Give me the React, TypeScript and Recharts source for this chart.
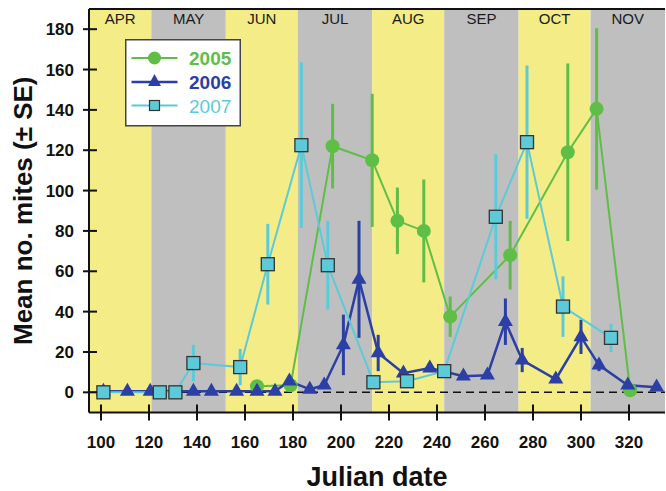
import React from 'react';
import {
  ComposedChart,
  Line,
  XAxis,
  YAxis,
  ReferenceArea,
  ReferenceLine,
  ErrorBar,
  Legend,
  Label,
} from 'recharts';

// ---------- data ----------
const monthNames = ['APR', 'MAY', 'JUN', 'JUL', 'AUG', 'SEP', 'OCT', 'NOV'];
const monthStarts = [95, 121, 152, 182, 213, 243, 274, 304];
const monthEnds = [121, 152, 182, 213, 243, 274, 304, 335];

const xTicks = [100, 120, 140, 160, 180, 200, 220, 240, 260, 280, 300, 320];
const yTicks = [0, 20, 40, 60, 80, 100, 120, 140, 160, 180];

const days2005 = [165, 179, 196.5, 213, 223.5, 234.5, 245.5, 270.5, 294.5, 306.5, 320.5];
const mean2005 = [3, 3.5, 122, 115, 85, 80, 37.5, 68, 119, 140.5, 1];
const se2005 = [0, 0, 21, 33, 16.5, 25.5, 10, 17, 44, 40, 0];

const days2006 = [101, 111, 120.5, 138.5, 146, 156.5, 165, 172.5, 178.5, 187, 193, 201, 207.5, 215.5, 226, 237, 251, 261, 268.5, 275.5, 289.5, 300, 307.5, 319.5, 331.5];
const mean2006 = [0.5, 0.5, 0.5, 0.5, 0.5, 0.5, 0.5, 0.5, 5.5, 1.5, 3.5, 23.5, 56, 19.5, 9.5, 12, 8, 8.5, 35, 16, 6.5, 27.5, 13.5, 3.5, 2.5];
const se2006 = [0, 0, 0, 0, 0, 0, 0, 0, 0, 0, 0, 15, 29, 9, 0, 0, 0, 0, 11.5, 6, 0, 8.5, 3, 0, 0];

const days2007 = [101, 124.5, 131, 138.5, 158, 169.5, 183.5, 194.5, 213.5, 227.5, 243, 264.5, 277.5, 292.5, 312.5];
const mean2007 = [0, 0, 0, 14.5, 12.5, 63.5, 122.5, 63, 5, 5.5, 10.5, 87, 124, 42.5, 27];
const se2007 = [0, 0, 0, 9, 9, 20, 41, 22, 0, 0, 0, 31, 38, 15, 7];

const build = (d: number[], m: number[], s: number[]) =>
  d.map((day, i) => ({ day, mean: m[i], se: s[i] }));

const data2005 = build(days2005, mean2005, se2005);
const data2006 = build(days2006, mean2006, se2006);
const data2007 = build(days2007, mean2007, se2007);

// ---------- style ----------
const FONT = '"Liberation Sans", Arial, Helvetica, sans-serif';
const GREEN = '#5FBE46';
const BLUE = '#2B3FA5';
const CYAN = '#5CCAD9';
const YELLOW = '#F3EC87';
const GRAY = '#BFBFBF';
const INK = '#111111';

const circleDot = (props: any) => {
  const { cx, cy, index } = props;
  if (cx == null || cy == null) return <g key={`c${index}`} />;
  return <circle key={`c${index}`} cx={cx} cy={cy} r={7} fill={GREEN} />;
};

const triangleDot = (props: any) => {
  const { cx, cy, index } = props;
  if (cx == null || cy == null) return <g key={`t${index}`} />;
  const w = 15;
  const h = 13;
  return (
    <path
      key={`t${index}`}
      d={`M${cx},${cy - (h * 2) / 3} L${cx + w / 2},${cy + h / 3} L${cx - w / 2},${cy + h / 3} Z`}
      fill={BLUE}
    />
  );
};

const squareDot = (props: any) => {
  const { cx, cy, index } = props;
  if (cx == null || cy == null) return <g key={`s${index}`} />;
  const s = 13;
  return (
    <rect
      key={`s${index}`}
      x={cx - s / 2}
      y={cy - s / 2}
      width={s}
      height={s}
      fill={CYAN}
      stroke="#333"
      strokeWidth={1.3}
    />
  );
};

const XTick = (props: any) => {
  const { x, y, payload } = props;
  return (
    <g>
      <line x1={x} x2={x} y1={y - 8} y2={y + 8} stroke={INK} strokeWidth={2} />
      <text
        x={x}
        y={y + 35.5}
        textAnchor="middle"
        fontFamily={FONT}
        fontWeight="bold"
        fontSize={17}
        fill={INK}
      >
        {payload.value}
      </text>
    </g>
  );
};

const YTick = (props: any) => {
  const { x, y, payload } = props;
  return (
    <g>
      <line x1={x - 6} x2={x + 8} y1={y} y2={y} stroke={INK} strokeWidth={2} />
      <text
        x={x - 15}
        y={y + 6}
        textAnchor="end"
        fontFamily={FONT}
        fontWeight="bold"
        fontSize={17}
        fill={INK}
      >
        {payload.value}
      </text>
    </g>
  );
};

const XLabel = (props: any) => {
  const vb = props.viewBox || { x: 89, y: 412.5, width: 576, height: 78.5 };
  return (
    <text
      x={vb.x + vb.width / 2}
      y={vb.y + 73.5}
      textAnchor="middle"
      fontFamily={FONT}
      fontWeight="bold"
      fontSize={27}
      fill={INK}
    >
      Julian date
    </text>
  );
};

const YLabel = (props: any) => {
  const vb = props.viewBox || { x: 0, y: 9, width: 89, height: 403.5 };
  const cx = vb.x + 32;
  const cy = vb.y + vb.height / 2;
  return (
    <text
      x={cx}
      y={cy}
      transform={`rotate(-90, ${cx}, ${cy})`}
      textAnchor="middle"
      fontFamily={FONT}
      fontWeight="bold"
      fontSize={26}
      fill={INK}
    >
      Mean no. mites (± SE)
    </text>
  );
};

const legendItems = [
  { name: '2005', color: GREEN, weight: 'bold', marker: 'circle' },
  { name: '2006', color: BLUE, weight: 'bold', marker: 'triangle' },
  { name: '2007', color: CYAN, weight: 'normal', marker: 'square' },
];

const LegendBox = () => {
  const rows = [19, 43, 66.5];
  return (
    <svg width={116} height={88} style={{ display: 'block' }}>
      <rect x={0.75} y={0.75} width={114.5} height={86} fill="#ffffff" stroke="#444" strokeWidth={1.5} />
      {legendItems.map((it, i) => {
        const y = rows[i];
        const mx = 29.5;
        let marker: React.ReactNode = null;
        if (it.marker === 'circle') marker = <circle cx={mx} cy={y} r={6.5} fill={it.color} />;
        if (it.marker === 'triangle')
          marker = (
            <path
              d={`M${mx},${y - 8} L${mx + 6.5},${y + 4} L${mx - 6.5},${y + 4} Z`}
              fill={it.color}
            />
          );
        if (it.marker === 'square')
          marker = (
            <rect x={mx - 5} y={y - 5} width={10} height={10} fill={it.color} stroke="#333" strokeWidth={1.2} />
          );
        return (
          <g key={it.name}>
            <line x1={6.5} x2={52.5} y1={y} y2={y} stroke={it.color} strokeWidth={it.marker === 'triangle' ? 2.5 : 2} />
            {marker}
            <text
              x={64}
              y={y + 7}
              fontFamily={FONT}
              fontWeight={it.weight}
              fontSize={19}
              fill={it.color}
            >
              {it.name}
            </text>
          </g>
        );
      })}
    </svg>
  );
};

export default function App() {
  return (
    <div style={{ position: 'absolute', left: 0, top: 0, width: 666, height: 491, background: '#fff' }}>
      <ComposedChart
        width={666}
        height={491}
        margin={{ top: 9, right: 1, bottom: 0, left: 0 }}
        style={{ fontFamily: FONT }}
      >
        {monthNames.map((m, i) => (
          <ReferenceArea
            key={m}
            x1={monthStarts[i]}
            x2={monthEnds[i]}
            y1={-10}
            y2={190}
            fill={i % 2 === 0 ? YELLOW : GRAY}
            fillOpacity={1}
            stroke="none"
            ifOverflow="hidden"
            label={{
              value: m,
              position: 'insideTop',
              offset: 4.5,
              fill: '#1a1a1a',
              fontSize: 15,
              fontFamily: FONT,
            }}
          />
        ))}
        <XAxis
          type="number"
          dataKey="day"
          domain={[95, 335]}
          ticks={xTicks}
          interval={0}
          allowDataOverflow
          height={78.5}
          tickSize={0}
          tickMargin={0}
          tickLine={false}
          tick={<XTick />}
          axisLine={{ stroke: INK, strokeWidth: 2 }}
        >
          <Label content={<XLabel />} />
        </XAxis>
        <YAxis
          type="number"
          domain={[-10, 190]}
          ticks={yTicks}
          interval={0}
          allowDataOverflow
          width={89}
          tickSize={0}
          tickMargin={0}
          tickLine={false}
          tick={<YTick />}
          axisLine={{ stroke: INK, strokeWidth: 2 }}
        >
          <Label content={<YLabel />} />
        </YAxis>
        <YAxis
          yAxisId="right"
          orientation="right"
          type="number"
          domain={[-10, 190]}
          ticks={yTicks}
          interval={0}
          allowDataOverflow
          width={0}
          mirror
          tickSize={6}
          tick={false}
          tickLine={{ stroke: INK, strokeWidth: 2 }}
          axisLine={{ stroke: INK, strokeWidth: 2 }}
        />
        <ReferenceLine y={190} stroke={INK} strokeWidth={2} />
        <ReferenceLine y={0} stroke={INK} strokeWidth={1.5} strokeDasharray="8 5" />
        <Line
          data={data2005}
          dataKey="mean"
          name="2005"
          stroke={GREEN}
          strokeWidth={2}
          dot={circleDot}
          activeDot={false}
          isAnimationActive={false}
        >
          <ErrorBar dataKey="se" width={0} strokeWidth={3} stroke={GREEN} direction="y" />
        </Line>
        <Line
          data={data2006}
          dataKey="mean"
          name="2006"
          stroke={BLUE}
          strokeWidth={2.5}
          dot={triangleDot}
          activeDot={false}
          isAnimationActive={false}
        >
          <ErrorBar dataKey="se" width={0} strokeWidth={3} stroke={BLUE} direction="y" />
        </Line>
        <Line
          data={data2007}
          dataKey="mean"
          name="2007"
          stroke={CYAN}
          strokeWidth={2}
          dot={squareDot}
          activeDot={false}
          isAnimationActive={false}
        >
          <ErrorBar dataKey="se" width={0} strokeWidth={3} stroke={CYAN} direction="y" />
        </Line>
        <Legend
          layout="vertical"
          align="center"
          verticalAlign="middle"
          wrapperStyle={{ left: 125, top: 39, width: 116, height: 88 }}
          content={() => <LegendBox />}
        />
      </ComposedChart>
    </div>
  );
}
